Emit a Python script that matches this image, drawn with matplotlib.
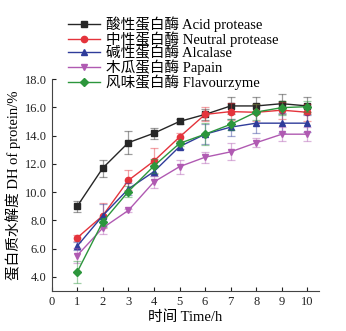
import matplotlib.pyplot as plt

plt.rcParams['font.family'] = ['Liberation Serif', 'Noto Sans CJK SC']

# Waktu hidrolisis (h)
waktu = [1, 2, 3, 4, 5, 6, 7, 8, 9, 10]

# DH (%) tiap enzim
acid = [8.99, 11.7, 13.5, 14.17, 15.0, 15.5, 16.1, 16.1, 16.26, 16.1]
neutral = [6.76, 8.33, 10.83, 12.2, 13.9, 15.5, 15.7, 15.65, 15.8, 15.65]
alcalase = [6.17, 8.33, 10.22, 11.45, 13.22, 14.1, 14.6, 14.88, 14.88, 14.88]
papain = [5.51, 7.46, 8.7, 10.72, 11.8, 12.47, 12.85, 13.5, 14.1, 14.1]
flavour = [4.33, 7.89, 10.04, 11.85, 13.45, 14.1, 14.8, 15.67, 15.98, 16.05]

# Error bar
acid_err = [0.4, 0.6, 0.8, 0.4, 0.2, 0.4, 0.6, 0.6, 0.7, 0.6]
neutral_err = [0.2, 0.9, 0.7, 0.9, 0.3, 0.5, 0.6, 0.6, 0.6, 0.6]
alcalase_err = [0.3, 0.8, 0.4, 0.3, 0.2, 0.7, 0.6, 0.7, 0.7, 0.6]
papain_err = [0.5, 0.4, 0.1, 0.4, 0.5, 0.4, 0.6, 0.3, 0.5, 0.5]
flavour_err = [0.8, 0.3, 0.4, 0.5, 0.2, 0.8, 0.4, 0.6, 0.5, 0.4]

labels = [
    "酸性蛋白酶 Acid protease",
    "中性蛋白酶 Neutral protease",
    "碱性蛋白酶 Alcalase",
    "木瓜蛋白酶 Papain",
    "风味蛋白酶 Flavourzyme",
]

seri = [
    (acid, acid_err, "#262626", "s"),
    (neutral, neutral_err, "#e4333c", "o"),
    (alcalase, alcalase_err, "#2f3c9a", "^"),
    (papain, papain_err, "#b05ab2", "v"),
    (flavour, flavour_err, "#2c963c", "D"),
]

fig = plt.figure(figsize=(3.46, 3.31), dpi=100)
ax = fig.add_axes([0.149, 0.121, 0.773, 0.640])

garis = []
for (nilai, err, warna, marker), label in zip(seri, labels):
    ax.errorbar(waktu, nilai, yerr=err, fmt="none", ecolor=warna,
                alpha=0.45, elinewidth=0.9, capsize=2.8, capthick=0.9)
    ms = 4.5 if marker != "D" else 3.8
    (l,) = ax.plot(waktu, nilai, color=warna, marker=marker, markersize=ms,
                   linewidth=1.0, label=label)
    garis.append(l)

ax.set_xlim(0, 10.45)
ax.set_ylim(3, 18)
ax.set_xticks(range(0, 11))
ax.set_yticks([4, 6, 8, 10, 12, 14, 16, 18])
ax.set_yticklabels([f"{v:.1f}" for v in ax.get_yticks()])

for s in ["top", "right"]:
    ax.spines[s].set_visible(False)
ax.spines["left"].set_color("#444444")
ax.spines["bottom"].set_color("#444444")
ax.tick_params(direction="in", length=3, width=0.8, labelsize=9,
               colors="#222222")

ax.set_xlabel("时间 Time/h", fontsize=10.5, labelpad=2)
ax.set_ylabel("蛋白质水解度 DH of protein/%", fontsize=10.5, labelpad=3)

fig.legend(handles=garis, loc="upper left", bbox_to_anchor=(0.18, 0.969),
           frameon=False, fontsize=10.5, handlelength=2.2, labelspacing=-0.05,
           handletextpad=0.4, borderaxespad=0)

fig.savefig("out.png", dpi=100)
